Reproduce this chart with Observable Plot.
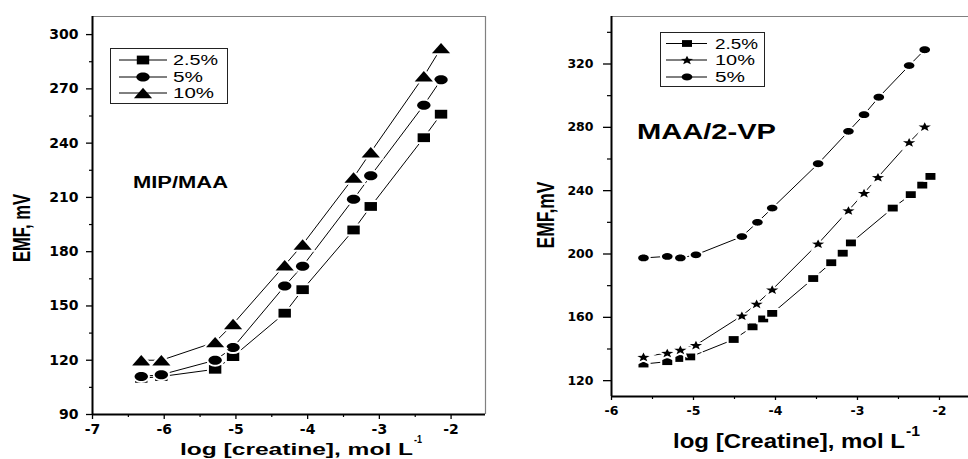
<!DOCTYPE html>
<html>
<head>
<meta charset="utf-8">
<script src="https://cdn.jsdelivr.net/npm/d3@7"></script>
<script src="https://cdn.jsdelivr.net/npm/@observablehq/plot@0.6"></script>
<style>
  html, body { margin: 0; padding: 0; background: #fff; }
  body { width: 968px; height: 459px; overflow: hidden; position: relative; }
  #left { position: absolute; left: 0; top: 0; }
  #right { position: absolute; left: 490px; top: 0; }
  #overlay { position: absolute; left: 0; top: 0; pointer-events: none; }
</style>
</head>
<body>
<div id="left"></div>
<div id="right"></div>
<svg id="overlay" width="968" height="459"></svg>
<script>
// ---------- Left panel: MIP/MAA ----------
const leftX = [-6.32, -6.04, -5.29, -5.04, -4.32, -4.07, -3.36, -3.12, -2.38, -2.14];
const left25 = [110, 111, 115, 122, 146, 159, 192, 205, 243, 256];
const left5 = [111, 112, 120, 127, 161, 172, 209, 222, 261, 275];
const left10 = [120, 120, 130, 140, 172.5, 184, 221, 235, 277, 292.5];
const leftXDomain = [-7, -1.52];
const leftYDomain = [90, 310];
const leftXTicks = [-7, -6, -5, -4, -3, -2];
const leftXMinor = [-6.5, -5.5, -4.5, -3.5, -2.5];
const leftYTicks = [90, 120, 150, 180, 210, 240, 270, 300];
const leftYMinor = [105, 135, 165, 195, 225, 255, 285];
const leftLegend = ["2.5%", "5%", "10%"];

// ---------- Right panel: MAA/2-VP ----------
const right25X = [-5.61, -5.32, -5.16, -5.04, -4.51, -4.28, -4.15, -4.04, -3.54, -3.32, -3.18, -3.08, -2.57, -2.35, -2.21, -2.11];
const right25 = [130.5, 132, 134, 135, 146, 154, 159, 162.5, 184.5, 194.5, 200.5, 207, 229, 237.5, 243.5, 249];
const right10X = [-5.61, -5.32, -5.16, -4.97, -4.41, -4.23, -4.04, -3.48, -3.11, -2.92, -2.75, -2.37, -2.18];
const right10 = [135, 137.5, 139.5, 142.5, 161, 168.5, 177.5, 206.5, 227.5, 238.5, 248.5, 270.5, 280.5];
const right5X = [-5.61, -5.32, -5.16, -4.97, -4.41, -4.22, -4.04, -3.48, -3.11, -2.92, -2.74, -2.37, -2.18];
const right5 = [197.5, 198.5, 197.5, 199.5, 211, 220, 229, 257, 277.5, 288, 299, 319, 329];
const rightXDomain = [-6, -1.646];
const rightYDomain = [110, 350];
const rightXTicks = [-6, -5, -4, -3, -2];
const rightXMinor = [-5.5, -4.5, -3.5, -2.5];
const rightYTicks = [120, 160, 200, 240, 280, 320];
const rightYMinor = [140, 180, 220, 260, 300, 340];
const rightLegend = ["2.5%", "10%", "5%"];

// ---------- custom (horizontally stretched) symbols ----------
function rectSym(ax) {
  return { draw(ctx, size) { const h = Math.sqrt(size / Math.PI), w = h * ax;
    ctx.moveTo(-w, -h); ctx.lineTo(w, -h); ctx.lineTo(w, h); ctx.lineTo(-w, h); ctx.closePath(); } };
}
function ellipseSym(ax) {
  return { draw(ctx, size) { const ry = Math.sqrt(size / Math.PI), rx = ry * ax, k = 0.5523;
    ctx.moveTo(rx, 0);
    ctx.bezierCurveTo(rx, ry * k, rx * k, ry, 0, ry);
    ctx.bezierCurveTo(-rx * k, ry, -rx, ry * k, -rx, 0);
    ctx.bezierCurveTo(-rx, -ry * k, -rx * k, -ry, 0, -ry);
    ctx.bezierCurveTo(rx * k, -ry, rx, -ry * k, rx, 0);
    ctx.closePath(); } };
}
function triSym(ax) {
  return { draw(ctx, size) { const h = Math.sqrt(size / Math.PI), w = h * ax;
    ctx.moveTo(0, -h); ctx.lineTo(w, h); ctx.lineTo(-w, h); ctx.closePath(); } };
}
function starSym(ax) {
  return { draw(ctx, size) { const R = Math.sqrt(size / Math.PI), r = R * 0.42;
    for (let i = 0; i < 10; i++) {
      const rad = i % 2 ? r : R, a = -Math.PI / 2 + i * Math.PI / 5;
      const px = Math.cos(a) * rad * ax, py = Math.sin(a) * rad + R * 0.1;
      i ? ctx.lineTo(px, py) : ctx.moveTo(px, py);
    }
    ctx.closePath(); } };
}

const L = {
  sq: { sym: rectSym(1.41), r: 4.4 },
  ci: { sym: ellipseSym(1.48), r: 4.5 },
  tr: { sym: triSym(1.75), r: 5.2 }
};
const R = {
  sq: { sym: rectSym(1.47), r: 3.4 },
  ci: { sym: ellipseSym(1.56), r: 3.4 },
  st: { sym: starSym(1.35), r: 4.8 }
};

const toRows = (xs, ys) => xs.map((x, i) => ({ x, y: ys[i] }));
const lineOpts = { x: "x", y: "y", stroke: "black", strokeWidth: 1 };
const dotOpts = (m) => ({ x: "x", y: "y", symbol: m.sym, r: m.r, fill: "black", stroke: "white", strokeWidth: 4, paintOrder: "stroke" });
const fmt = d => String(d);

// Force the tick-label font on every text of a panel (only tick labels live there)
function styleTicks(svg, size) {
  d3.select(svg).selectAll("text")
    .attr("font-size", size)
    .style("font-size", size + "px")
    .style("font-weight", "bold")
    .style("font-family", "'DejaVu Sans', sans-serif");
}

// ---------- Left plot ----------
const lS = [toRows(leftX, left25), toRows(leftX, left5), toRows(leftX, left10)];
const leftPlot = Plot.plot({
  width: 490, height: 459,
  marginLeft: 92, marginRight: 5, marginTop: 16, marginBottom: 45,
  style: { fontFamily: "'DejaVu Sans', sans-serif", fontWeight: "bold", color: "black", background: "transparent", overflow: "visible" },
  x: { domain: leftXDomain },
  y: { domain: leftYDomain },
  marks: [
    Plot.ruleY([leftYDomain[1]], { stroke: "#808080", strokeWidth: 1.2 }),
    Plot.ruleX([leftXDomain[1]], { stroke: "#808080", strokeWidth: 1.2 }),
    Plot.axisY(leftYTicks, { tickSize: 6, tickPadding: 8, tickFormat: fmt, label: null, strokeWidth: 1.3 }),
    Plot.axisY(leftYMinor, { tickSize: 3, fill: "none", label: null, strokeWidth: 1.2 }),
    Plot.axisX(leftXTicks, { tickSize: 5, tickPadding: 5, tickFormat: fmt, label: null, strokeWidth: 1.3 }),
    Plot.axisX(leftXMinor, { tickSize: 3, fill: "none", label: null, strokeWidth: 1.2 }),
    Plot.ruleX([leftXDomain[0]], { stroke: "black", strokeWidth: 2 }),
    Plot.ruleY([leftYDomain[0]], { stroke: "black", strokeWidth: 2 }),
    Plot.line(lS[0], lineOpts),
    Plot.line(lS[1], lineOpts),
    Plot.line(lS[2], lineOpts),
    Plot.dot(lS[0], dotOpts(L.sq)),
    Plot.dot(lS[1], dotOpts(L.ci)),
    Plot.dot(lS[2], dotOpts(L.tr))
  ]
});
styleTicks(leftPlot, 14);
document.getElementById("left").append(leftPlot);

// ---------- Right plot ----------
const rS = [toRows(right25X, right25), toRows(right10X, right10), toRows(right5X, right5)];
const rightPlot = Plot.plot({
  width: 478, height: 459,
  marginLeft: 121, marginRight: 0, marginTop: 16, marginBottom: 63,
  style: { fontFamily: "'DejaVu Sans', sans-serif", fontWeight: "bold", color: "black", background: "transparent", overflow: "visible" },
  x: { domain: rightXDomain },
  y: { domain: rightYDomain },
  marks: [
    Plot.ruleY([rightYDomain[1]], { stroke: "#808080", strokeWidth: 1.2 }),
    Plot.axisY(rightYTicks, { tickSize: 8, tickPadding: 10, tickFormat: fmt, label: null, strokeWidth: 1.3 }),
    Plot.axisY(rightYMinor, { tickSize: 4, fill: "none", label: null, strokeWidth: 1.2 }),
    Plot.axisX(rightXTicks, { tickSize: 4, tickPadding: 6, tickFormat: fmt, label: null, strokeWidth: 1.3 }),
    Plot.axisX(rightXMinor, { tickSize: 3, fill: "none", label: null, strokeWidth: 1.2 }),
    Plot.ruleX([rightXDomain[0]], { stroke: "black", strokeWidth: 2 }),
    Plot.ruleY([rightYDomain[0]], { stroke: "black", strokeWidth: 2 }),
    Plot.line(rS[0], lineOpts),
    Plot.line(rS[1], lineOpts),
    Plot.line(rS[2], lineOpts),
    Plot.dot(rS[0], dotOpts(R.sq)),
    Plot.dot(rS[1], dotOpts(R.st)),
    Plot.dot(rS[2], dotOpts(R.ci))
  ]
});
styleTicks(rightPlot, 12.5);
document.getElementById("right").append(rightPlot);

// ---------- overlay: axis titles, annotations, legends ----------
const ov = d3.select("#overlay");
const boldFont = "'Liberation Sans', Arial, sans-serif";

function addText(txt, x, y, size, len, opts = {}) {
  const t = ov.append("text")
    .attr("x", x).attr("y", y)
    .attr("font-family", opts.family || boldFont)
    .attr("font-weight", opts.weight || "bold")
    .attr("font-size", size)
    .attr("fill", "black")
    .attr("text-anchor", opts.anchor || "start")
    .text(txt);
  if (len) t.attr("textLength", len).attr("lengthAdjust", "spacingAndGlyphs");
  if (opts.transform) t.attr("transform", opts.transform);
  return t;
}

// Left panel titles
addText("EMF, mV", 0, 0, 23, 68, { anchor: "middle", transform: "translate(30,228) rotate(-90)" });
addText("log [creatine], mol L", 180, 455, 16, 233);
addText("-1", 414, 443, 11, 8);
addText("MIP/MAA", 133, 188, 16, 95);

// Right panel titles
addText("EMF,mV", 0, 0, 23, 67, { anchor: "middle", transform: "translate(554,215) rotate(-90)" });
addText("log [Creatine], mol L", 673, 448, 20, 232);
addText("-1", 906, 436, 14, 14);
addText("MAA/2-VP", 637, 139, 22, 139);

// Legends
function legend(box, rowsY, lineX, markX, textX, labels, markers, fontSize, textLens) {
  ov.append("rect").attr("x", box[0] + 0.5).attr("y", box[1] + 0.5).attr("width", box[2]).attr("height", box[3])
    .attr("fill", "white").attr("stroke", "#222").attr("stroke-width", 1);
  labels.forEach((lab, i) => {
    const y = rowsY[i];
    ov.append("line").attr("x1", lineX[0]).attr("x2", lineX[1]).attr("y1", y).attr("y2", y)
      .attr("stroke", "black").attr("stroke-width", 1);
    const m = markers[i];
    ov.append("path").attr("d", d3.symbol(m.sym, m.r * m.r * Math.PI)())
      .attr("transform", `translate(${markX},${y})`).attr("fill", "black");
    addText(lab, textX, y + 5, fontSize, textLens[i], { weight: "normal" });
  });
}
legend([110, 48, 117, 55], [60, 77, 93], [119, 167], 143, 173, leftLegend, [L.sq, L.ci, L.tr], 14, [45, 30, 41]);
legend([660, 32, 104, 54], [43.5, 60, 77], [666, 707], 687, 715, rightLegend, [R.sq, R.st, R.ci], 14, [43, 40, 30]);
</script>
</body>
</html>
